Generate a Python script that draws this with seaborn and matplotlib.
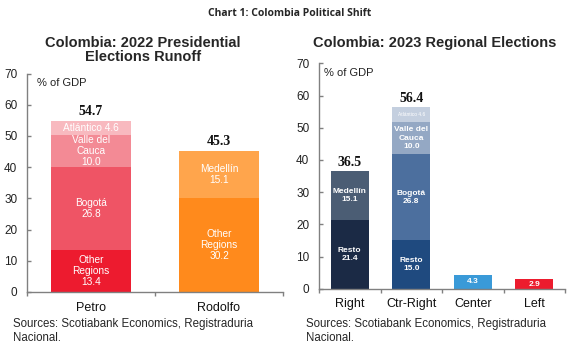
import numpy as np
import pandas as pd
import matplotlib
matplotlib.use("Agg")
import matplotlib.pyplot as plt
import seaborn as sns

# 데이터: 2022 대선 결선
runoff_candidates = ["Petro", "Rodolfo"]
runoff_totals = [54.7, 45.3]
petro_segments = ["Other\nRegions", "Bogotá", "Valle del\nCauca", "Atlántico"]
petro_values = [13.4, 26.8, 10.0, 4.6]
petro_colors = ["#ED1B2F", "#EF5465", "#F38A95", "#F8B9BF"]
rodolfo_segments = ["Other\nRegions", "Medellín"]
rodolfo_values = [30.2, 15.1]
rodolfo_colors = ["#FF8A1C", "#FFA54C"]

# 데이터: 2023 지방선거
regional_blocs = ["Right", "Ctr-Right", "Center", "Left"]
regional_totals = [36.5, 56.4, None, None]
right_segments = ["Resto", "Medellín"]
right_values = [21.4, 15.1]
right_colors = ["#1B2A45", "#4B5D74"]
ctr_right_segments = ["Resto", "Bogotá", "Valle del\nCauca", "Atlántico 4.6"]
ctr_right_values = [15.0, 26.8, 10.0, 4.6]
ctr_right_colors = ["#1F4A7F", "#4C6F9E", "#94A8C4", "#C4CFDF"]
center_values = [4.3]
center_colors = ["#3A9AD8"]
left_values = [2.9]
left_colors = ["#EC1C2E"]

FIG_W, FIG_H = 580, 352
SANS = "Liberation Sans"
GREY = "#808080"


def fx(px):
    return px / FIG_W


def fy(py):
    return 1 - py / FIG_H


def draw_stack(ax, order, cat, values, colors, width):
    """누적 막대: 위 구간부터 그리고 아래 구간이 덮도록"""
    cum = np.cumsum(values)
    for i in range(len(values) - 1, -1, -1):
        df = pd.DataFrame({"cat": [cat], "val": [cum[i]]})
        sns.barplot(data=df, x="cat", y="val", order=order, color=colors[i],
                    width=width, errorbar=None, saturation=1, ax=ax,
                    edgecolor="none", linewidth=0)
    return cum


def style_axis(ax, n):
    ax.set_ylim(0, 70)
    ax.set_xlim(-0.5, n - 0.5)
    ax.set_yticks(range(0, 71, 10))
    ax.set_xlabel("")
    ax.set_ylabel("")
    for s in ["top", "right"]:
        ax.spines[s].set_visible(False)
    for s in ["left", "bottom"]:
        ax.spines[s].set_color(GREY)
        ax.spines[s].set_linewidth(1.0)
    ax.tick_params(axis="y", left=True, direction="in", length=3, width=1,
                   color=GREY, labelsize=8.5, pad=7, labelcolor="#222222")
    ax.tick_params(axis="x", which="major", bottom=True, length=0, labelsize=9,
                   pad=7, labelcolor="#111111")
    ax.set_xticks(np.arange(-0.5, n, 1.0), minor=True)
    ax.tick_params(axis="x", which="minor", bottom=True, direction="out",
                   length=3, width=1, color=GREY)
    for lab in ax.get_xticklabels() + ax.get_yticklabels():
        lab.set_family(SANS)
    ax.set_facecolor("white")


sns.set_theme(style="ticks")
plt.rcParams["font.family"] = [SANS, "DejaVu Sans"]

fig = plt.figure(figsize=(FIG_W / 100, FIG_H / 100), dpi=100)
fig.patch.set_facecolor("white")

# --- 왼쪽 패널 ---
ax1 = fig.add_axes([fx(27), fy(292), fx(256), (292 - 73.5) / FIG_H])
bw = 0.62
panels = [
    ("Petro", petro_segments, petro_values, petro_colors),
    ("Rodolfo", rodolfo_segments, rodolfo_values, rodolfo_colors),
]
for xi, (cat, segs, vals, cols) in enumerate(panels):
    cum = draw_stack(ax1, runoff_candidates, cat, vals, cols, bw)
    for seg, v, top in zip(segs, vals, cum):
        label = f"{seg} {v:.1f}" if seg == "Atlántico" else f"{seg}\n{v:.1f}"
        ax1.text(xi, top - v / 2, label, ha="center", va="center", color="white",
                 fontsize=7.3, family=SANS, linespacing=1.15)
    ax1.text(xi, cum[-1] + 0.8, f"{runoff_totals[xi]:.1f}", ha="center",
             va="bottom", fontsize=10, fontweight="bold",
             family="Liberation Serif", color="#111111")
style_axis(ax1, len(runoff_candidates))
ax1.text(0.04, 0.955, "% of GDP", transform=ax1.transAxes, fontsize=8,
         va="center", ha="left", color="#222222")

# --- 오른쪽 패널 ---
ax2 = fig.add_axes([fx(319), fy(288.7), fx(246), (288.7 - 63.3) / FIG_H])
panels2 = [
    ("Right", right_segments, right_values, right_colors),
    ("Ctr-Right", ctr_right_segments, ctr_right_values, ctr_right_colors),
    ("Center", [""], center_values, center_colors),
    ("Left", [""], left_values, left_colors),
]
for xi, (cat, segs, vals, cols) in enumerate(panels2):
    cum = draw_stack(ax2, regional_blocs, cat, vals, cols, bw)
    for seg, v, top in zip(segs, vals, cum):
        if seg.startswith("Atlántico"):
            ax2.text(xi, top - v / 2, seg, ha="center", va="center", color="white",
                     fontsize=3.5, family=SANS)
        elif seg == "":
            ax2.text(xi, top - v / 2, f"{v:.1f}", ha="center", va="center",
                     color="white", fontsize=6, fontweight="bold", family=SANS)
        else:
            ax2.text(xi, top - v / 2, f"{seg}\n{v:.1f}", ha="center", va="center",
                     color="white", fontsize=6, fontweight="bold", family=SANS,
                     linespacing=1.25)
    if regional_totals[xi] is not None:
        ax2.text(xi, cum[-1] + 0.8, f"{regional_totals[xi]:.1f}", ha="center",
                 va="bottom", fontsize=10, fontweight="bold",
                 family="Liberation Serif", color="#111111")
style_axis(ax2, len(regional_blocs))
ax2.text(0.02, 0.955, "% of GDP", transform=ax2.transAxes, fontsize=8,
         va="center", ha="left", color="#222222")

# --- 제목 및 출처 ---
fig.text(fx(290), fy(13), "Chart 1: Colombia Political Shift", ha="center",
         va="center", fontsize=7.5, fontweight="bold", family="Open Sans")
fig.text(fx(143), fy(50), "Colombia: 2022 Presidential\nElections Runoff",
         ha="center", va="center", fontsize=10.5, fontweight="bold", family=SANS,
         linespacing=1.05)
fig.text(fx(435), fy(43), "Colombia: 2023 Regional Elections", ha="center",
         va="center", fontsize=10.5, fontweight="bold", family=SANS)
fig.text(fx(13), fy(331), "Sources: Scotiabank Economics, Registraduria\nNacional.",
         ha="left", va="center", fontsize=8.3, family=SANS, linespacing=1.2)
fig.text(fx(306), fy(331), "Sources: Scotiabank Economics, Registraduria\nNacional.",
         ha="left", va="center", fontsize=8.3, family=SANS, linespacing=1.2)

fig.savefig("out.png", dpi=100, facecolor="white")
